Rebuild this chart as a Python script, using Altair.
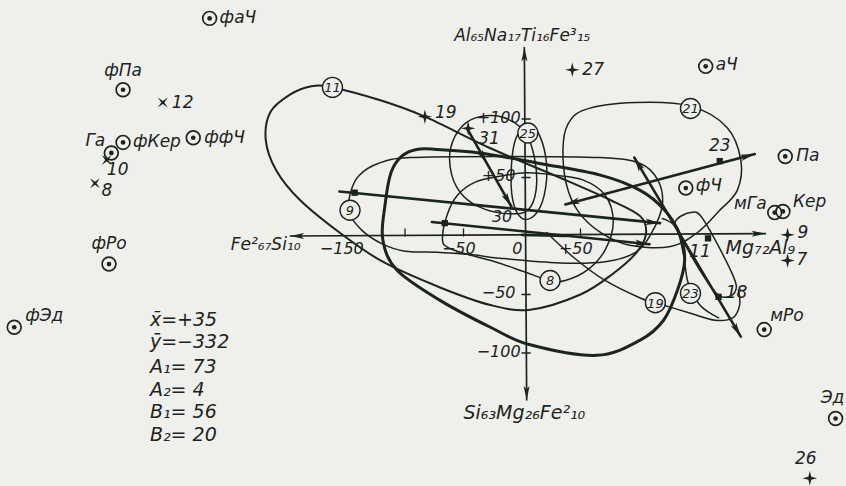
import math
import altair as alt
import pandas as pd

INK = "#1b241d"
BG = "#efefec"
FONT = "DejaVu Sans"

# Plane of the diagram: 1 unit = 1.17 px, origin of the axes at (522, 236) px
W, H = 846, 486
PX = 1.17
X_DOM = [-522 / PX, (W - 522) / PX]
Y_DOM = [(236 - H) / PX, 236 / PX]

# ---------------- contour loops (closed) ----------------
loop_big = [(-73, 74), (-36, 71), (15, 62), (67, 52), (101, 39), (122, 22), (135, 1),
            (139, -21), (133, -46), (121, -72), (101, -89), (64, -102), (7, -93),
            (-27, -78), (-70, -55), (-107, -29), (-119, -3), (-117, 27), (-112, 54),
            (-103, 68), (-90, 74)]
loop_11 = [(-162, 127), (-121, 116), (-83, 102), (-27, 75), (32, 50), (75, 31), (101, 17),
           (106, 2), (98, -14), (78, -32), (50, -50), (7, -63), (-27, -59), (-70, -44),
           (-119, -22), (-156, 3), (-190, 31), (-210, 56), (-219, 82), (-215, 106),
           (-198, 121), (-180, 128)]
loop_9 = [(-148, 21), (-146, 39), (-139, 52), (-123, 62), (-96, 67), (-19, 68), (67, 67),
          (101, 62), (116, 48), (120, 27), (111, 3), (97, -14), (71, -22), (32, -23),
          (-19, -19), (-42, -16), (-70, -14), (-100, -13), (-119, -7), (-137, 5)]
loop_8 = [(-68, -3), (-64, 18), (-55, 35), (-40, 46), (-19, 51), (4, 54), (28, 52), (52, 48),
          (71, 35), (78, 12), (71, -12), (56, -29), (37, -38), (24, -38), (3, -31),
          (-23, -22), (-49, -15), (-63, -10)]
loop_25 = [(5, 96), (15, 86), (21, 61), (19, 35), (11, 18), (0, 15), (-8, 31), (-9, 61), (-5, 84)]
loop_31 = [(-36, 102), (-51, 94), (-61, 75), (-60, 52), (-50, 34), (-32, 23), (-10, 19),
           (5, 22), (12, 39), (11, 65), (3, 88), (-15, 101)]
loop_21 = [(144, 111), (175, 93), (187, 65), (184, 39), (168, 21), (150, 3), (127, -9),
           (92, -8), (67, 3), (48, 21), (38, 44), (35, 74), (39, 95), (54, 108), (97, 114)]
loop_18 = [(131, 12), (144, 20), (155, 14), (180, -33), (182, -48), (171, -52), (159, -40),
           (137, -3)]

# ---------------- open traces ----------------
trace_19 = [(21, 3), (45, -19), (71, -38), (101, -53), (114, -57), (144, -66), (165, -72),
            (180, -70), (186, -59), (185, -46)]
trace_23 = [(120, 15), (132, 7), (138, -16), (142, -40), (152, -59), (168, -70)]

# ---------------- vectors (start, end) ----------------
vec_start = [(-156, 38), (-77, 12), (-47, 92), (37, 27), (96, 67), (0, 1)]
vec_end = [(118, 11), (109, -7), (-9, 25), (199, 70), (187, -86), (38, 0)]
# arrowheads: (vector index, fraction along it, +1 forward / -1 backward)
vec_heads = [(0, 1.0, 1), (1, 1.0, 1), (2, 0.45, 1), (2, 1.0, 1),
             (3, 0.0, -1), (3, 1.0, 1), (4, 0.0, -1), (4, 1.0, 1)]

# axes of the diagram
axis_start = [(-198, 0), (4, -140)]
axis_end = [(208, 2), (2, 161)]
x_ticks = [-100, -50, 50]
y_ticks = [100, 50, -50, -100]
x_tick_vals = [-150, -50, 0, 50]
x_tick_text = ["−150", "−50", "0", "+50"]
y_tick_vals = [100, 50, -50, -100]
y_tick_text = ["+100", "+50", "−50", "−100"]

# ---------------- point symbols ----------------
bull_names = ["фаЧ", "фПа", "Га", "фКер", "ффЧ", "фРо", "фЭд",
              "аЧ", "Па", "фЧ", "мГа", "Кер", "мРо", "Эд"]
bull_x = [-267, -341, -351, -341, -281, -353, -434, 157, 225, 140, 216, 223, 207, 268]
bull_y = [186, 125, 71, 80, 84, -24, -78, 145, 68, 41, 20, 21, -80, -156]

star_names = ["27", "9", "7", "26", "19", "31"]
star_x = [43, 227, 227, 246, -83, -46]
star_y = [142, 1, -21, -207, 102, 92]

cross_names = ["12", "8", "10"]
cross_x = [-307, -365, -355]
cross_y = [114, 45, 65]

square_names = ["23", "11", "18", "", ""]
square_x = [169, 159, 168, -143, -66]
square_y = [64, -2, -52, 37, 11]

ring_names = ["11", "25", "21", "9", "8", "19", "23"]
ring_x = [-162, 5, 144, -147, 24, 114, 144]
ring_y = [127, 88, 109, 22, -38, -57, -49]

stat_lines = ["x̄=+35", "ȳ=−332", "A₁= 73", "A₂= 4", "B₁= 56", "B₂= 20"]

# end members of the axes
pole_top = "Al₆₅Na₁₇Ti₁₆Fe³₁₅"
pole_left = "Fe²₆₇Si₁₀"
pole_right = "Mg₇₂Al₉"
pole_bottom = "Si₆₃Mg₂₆Fe²₁₀"

# label offsets in px: name -> (dx, dy, align)
label_pos = {
    "фаЧ": (10, 0, "left"), "фПа": (0, -19, "center"), "Га": (-16, -12, "center"),
    "фКер": (10, 0, "left"), "ффЧ": (11, 0, "left"), "фРо": (0, -20, "center"),
    "фЭд": (11, -11, "left"), "аЧ": (10, -1, "left"), "Па": (11, 0, "left"),
    "фЧ": (10, -2, "left"), "мГа": (-8, -9, "right"), "Кер": (10, -9, "left"),
    "мРо": (6, -14, "left"), "Эд": (-3, -21, "center"),
}
star_pos = {"27": (10, 0, "left"), "9": (10, -2, "left"), "7": (9, -1, "left"),
            "26": (-4, -19, "center"), "19": (10, -4, "left"), "31": (10, 11, "left")}
cross_pos = {"12": (9, 0, "left"), "8": (12, 8, "center"), "10": (11, 10, "center")}
square_pos = {"23": (0, -15, "center"), "11": (-8, 14, "center"), "18": (18, -4, "center")}

xs = alt.Scale(domain=X_DOM, nice=False, zero=False)
ys = alt.Scale(domain=Y_DOM, nice=False, zero=False)
X = lambda f="x": alt.X(f"{f}:Q", scale=xs, axis=None)
Y = lambda f="y": alt.Y(f"{f}:Q", scale=ys, axis=None)


def trace_frame(traces):
    rows = []
    for name, pts in traces.items():
        for i, (x, y) in enumerate(pts):
            rows.append({"id": name, "i": i, "x": x, "y": y})
    return pd.DataFrame(rows)


def curves(traces, width, interp):
    return alt.Chart(trace_frame(traces)).mark_line(
        color=INK, strokeWidth=width, interpolate=interp, strokeJoin="round", strokeCap="round"
    ).encode(x=X(), y=Y(), detail="id:N", order="i:Q")


def segments(starts, ends, width):
    df = pd.DataFrame({"x": [s[0] for s in starts], "y": [s[1] for s in starts],
                       "x2": [e[0] for e in ends], "y2": [e[1] for e in ends]})
    return alt.Chart(df).mark_rule(color=INK, strokeWidth=width, strokeCap="round").encode(
        x=X(), y=Y(), x2="x2:Q", y2="y2:Q")


def heads(starts, ends, spec, size):
    rows = []
    for k, t, sgn in spec:
        (x0, y0), (x1, y1) = starts[k], ends[k]
        dx, dy = (x1 - x0) * sgn, (y1 - y0) * sgn
        ang = math.degrees(math.atan2(dx, dy)) % 360
        rows.append({"x": x0 + t * (x1 - x0), "y": y0 + t * (y1 - y0), "ang": ang})
    return alt.Chart(pd.DataFrame(rows)).mark_point(
        shape="M0,0L0.32,1.45L0,1.12L-0.32,1.45Z", filled=True, color=INK, opacity=1
    ).encode(x=X(), y=Y(), angle=alt.Angle("ang:Q", scale=None), size=alt.value(size))


def labels(names, xv, yv, pos, size=17):
    out = []
    for align in ["left", "center", "right"]:
        rows = []
        for n, x, y in zip(names, xv, yv):
            if n in pos and pos[n][2] == align:
                dx, dy, _ = pos[n]
                rows.append({"t": n, "x": x + dx / PX, "y": y - dy / PX})
        if rows:
            out.append(alt.Chart(pd.DataFrame(rows)).mark_text(
                font=FONT, fontStyle="italic", fontSize=size, color=INK,
                align=align, baseline="middle").encode(x=X(), y=Y(), text="t:N"))
    return out


def free_text(items, size, align="left"):
    df = pd.DataFrame(items, columns=["t", "x", "y"])
    return alt.Chart(df).mark_text(font=FONT, fontStyle="italic", fontSize=size, color=INK,
                                   align=align, baseline="middle").encode(
        x=X(), y=Y(), text="t:N")


layers = []
layers.append(curves({"big": loop_big}, 3.0, "cardinal-closed"))
layers.append(curves({"11": loop_11}, 2.0, "cardinal-closed"))
layers.append(curves({"9": loop_9, "8": loop_8, "25": loop_25, "31": loop_31,
                      "21": loop_21, "18": loop_18}, 1.5, "cardinal-closed"))
layers.append(curves({"19": trace_19, "23": trace_23}, 1.5, "cardinal"))

# axes and ticks
layers.append(segments(axis_start, axis_end, 1.7))
layers.append(heads(axis_start, axis_end, [(0, 0.0, -1), (0, 1.0, 1), (1, 0.0, -1), (1, 1.0, 1)], 360))
layers.append(segments([(v, 0) for v in x_ticks], [(v, 6) for v in x_ticks], 1.3))
layers.append(segments([(0, v) for v in y_ticks], [(7, v) for v in y_ticks], 1.3))

# vectors
layers.append(segments(vec_start, vec_end, 2.6))
layers.append(heads(vec_start, vec_end, vec_heads, 400))

# point symbols
bull = pd.DataFrame({"x": bull_x, "y": bull_y})
layers.append(alt.Chart(bull).mark_point(shape="circle", filled=False, color=INK, strokeWidth=1.7,
                                         opacity=1).encode(x=X(), y=Y(), size=alt.value(190)))
layers.append(alt.Chart(bull).mark_point(shape="circle", filled=True, color=INK, opacity=1).encode(
    x=X(), y=Y(), size=alt.value(22)))
layers.append(alt.Chart(pd.DataFrame({"x": star_x, "y": star_y})).mark_point(
    shape="M0,-1L0.2,-0.2L1,0L0.2,0.2L0,1L-0.2,0.2L-1,0L-0.2,-0.2Z", filled=True, color=INK,
    opacity=1).encode(x=X(), y=Y(), size=alt.value(210)))
layers.append(alt.Chart(pd.DataFrame({"x": cross_x, "y": cross_y})).mark_point(
    shape="M-1,-1L0,-0.3L1,-1L0.3,0L1,1L0,0.3L-1,1L-0.3,0Z", filled=True, color=INK,
    opacity=1).encode(x=X(), y=Y(), size=alt.value(100)))
layers.append(alt.Chart(pd.DataFrame({"x": square_x, "y": square_y})).mark_point(
    shape="square", filled=True, color=INK, opacity=1).encode(x=X(), y=Y(), size=alt.value(40)))

# circled curve numbers
rings = pd.DataFrame({"t": ring_names, "x": ring_x, "y": ring_y})
layers.append(alt.Chart(rings).mark_point(shape="circle", filled=True, fill=BG, stroke=INK,
                                          strokeWidth=1.4, opacity=1).encode(
    x=X(), y=Y(), size=alt.value(400)))
layers.append(alt.Chart(rings).mark_text(font=FONT, fontStyle="italic", fontSize=13, color=INK,
                                         baseline="middle", dy=1).encode(x=X(), y=Y(), text="t:N"))

# point labels
layers += labels(bull_names, bull_x, bull_y, label_pos)
layers += labels(star_names, star_x, star_y, star_pos)
layers += labels(cross_names, cross_x, cross_y, cross_pos)
layers += labels(square_names, square_x, square_y, square_pos)

# tick labels
layers.append(free_text([(t, v - 4, -11) for t, v in zip(x_tick_text, x_tick_vals)], 16, "center"))
layers.append(free_text([(t, -20, v + 1) for t, v in zip(y_tick_text, y_tick_vals)], 16, "center"))
layers.append(free_text([("30", -17, 16)], 16, "center"))

# end members of the axes
layers.append(free_text([(pole_top, -58, 171), (pole_left, -249, -8)], 17))
layers.append(free_text([(pole_right, 174, -10), (pole_bottom, -50, -151)], 19))

# statistics block
layers.append(free_text([(s, -318, y) for s, y in
                         zip(stat_lines, [-72, -91, -112, -132, -150, -170])], 19))

chart = alt.layer(*layers).properties(
    width=W, height=H, padding=0, autosize="none", background=BG
).configure_view(stroke=None)

chart.save("out.html", embed_options={"renderer": "svg", "actions": False})
